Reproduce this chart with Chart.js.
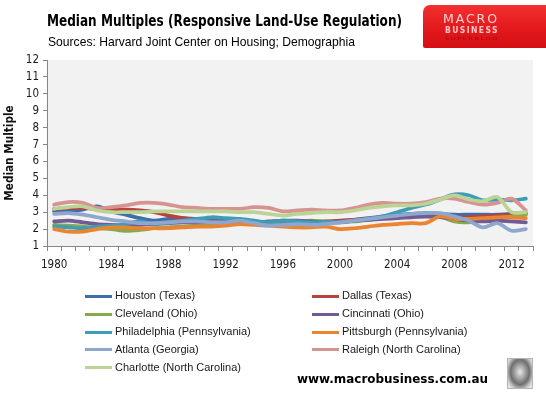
<!DOCTYPE html>
<html><head><meta charset="utf-8">
<script src="https://cdn.jsdelivr.net/npm/chart.js@4.4.1/dist/chart.umd.min.js"></script>
<style>
html,body{margin:0;padding:0;background:#fff;}
#wrap{position:relative;width:546px;height:395px;overflow:hidden;background:#fff;}
canvas{position:absolute;left:0;top:0;}
.t{position:absolute;white-space:nowrap;transform-origin:0 50%;line-height:1;}
#title{left:47px;top:11px;font:bold 16px 'DejaVu Sans Condensed','DejaVu Sans',sans-serif;color:#000;}
#sub{left:48px;top:34px;font:13.5px 'Liberation Sans',Arial,sans-serif;color:#000;}
#foot{left:297px;top:371px;font:bold 13px 'DejaVu Sans Condensed','DejaVu Sans',sans-serif;color:#000;}
#logo{position:absolute;left:423px;top:5px;width:123px;height:43px;border-top-left-radius:7px;border-bottom-left-radius:2px;
 background:linear-gradient(180deg,#f2312f 0%,#e3191c 55%,#d50f13 100%);}
.lg{position:absolute;white-space:nowrap;transform-origin:0 50%;line-height:1;}
#l1{left:443px;top:11px;font:13px 'DejaVu Sans',sans-serif;color:#f9d3d3;letter-spacing:2px;}
#l2{left:445px;top:26px;font:bold 8px 'DejaVu Sans',sans-serif;color:#f7c7c7;letter-spacing:1.5px;}
#l3{left:445px;top:36px;font:4.5px 'DejaVu Sans',sans-serif;color:#a7080c;letter-spacing:1px;}
#wolf{position:absolute;left:507px;top:358px;width:24px;height:29px;border:1px solid #b5b5b5;
 background:radial-gradient(ellipse at 50% 45%,#e8e8e8 0%,#9a9a9a 35%,#6e6e6e 55%,#cfcfcf 80%,#f2f2f2 100%);}
.leg{position:absolute;height:3px;width:27px;}
.legt{position:absolute;white-space:nowrap;font:11px 'Liberation Sans',Arial,sans-serif;color:#1a1a1a;line-height:1;}
</style></head><body>
<div id="wrap">
<canvas id="c" width="546" height="395"></canvas>
<div id="title" class="t">Median Multiples (Responsive Land-Use Regulation)</div>
<div id="sub" class="t">Sources: Harvard Joint Center on Housing; Demographia</div>
<div id="logo"></div>
<div id="l1" class="lg">MACRO</div>
<div id="l2" class="lg">BUSINESS</div>
<div id="l3" class="lg">SUPERBLOG</div>
<div id="foot" class="t">www.macrobusiness.com.au</div>
<div id="wolf"></div>
</div>
<script>
const years = ['1980','1981','1982','1983','1984','1985','1986','1987','1988','1989','1990','1991','1992','1993','1994','1995','1996','1997','1998','1999','2000','2001','2002','2003','2004','2005','2006','2007','2008','2009','2010','2011','2012','2013'];

const houston      = [3.05,3.10,3.15,3.35,3.05,2.85,2.65,2.50,2.60,2.65,2.60,2.60,2.55,2.50,2.40,2.35,2.40,2.45,2.40,2.40,2.45,2.55,2.65,2.75,2.85,2.90,2.95,2.90,2.85,2.85,2.85,2.85,2.90,2.95];
const dallas       = [3.20,3.25,3.25,3.20,3.15,3.15,3.10,3.00,2.80,2.65,2.55,2.50,2.45,2.45,2.40,2.35,2.35,2.40,2.40,2.45,2.50,2.55,2.60,2.65,2.70,2.75,2.75,2.75,2.70,2.70,2.75,2.80,2.85,2.95];
const cleveland    = [2.25,2.20,2.15,2.05,2.00,1.90,1.95,2.05,2.10,2.15,2.20,2.25,2.30,2.30,2.35,2.40,2.45,2.45,2.50,2.45,2.40,2.45,2.55,2.65,2.75,2.85,2.90,2.75,2.45,2.40,2.55,2.65,2.75,2.85];
const cincinnati   = [2.45,2.50,2.40,2.30,2.25,2.20,2.25,2.30,2.35,2.40,2.40,2.45,2.50,2.45,2.40,2.45,2.50,2.50,2.45,2.40,2.45,2.50,2.55,2.60,2.65,2.70,2.75,2.70,2.60,2.50,2.45,2.50,2.45,2.40];
const philadelphia = [2.15,2.10,2.05,2.15,2.20,2.30,2.45,2.30,2.40,2.50,2.60,2.70,2.65,2.60,2.50,2.40,2.50,2.45,2.40,2.40,2.40,2.50,2.60,2.75,3.00,3.25,3.45,3.75,4.05,4.00,3.70,3.75,3.70,3.80];
const pittsburgh   = [2.00,1.85,1.85,2.00,2.10,2.10,2.05,2.05,2.05,2.10,2.15,2.15,2.20,2.30,2.25,2.20,2.15,2.10,2.10,2.15,2.00,2.05,2.15,2.25,2.30,2.35,2.35,2.75,2.60,2.60,2.65,2.70,2.70,2.65];
const atlanta      = [2.90,2.95,2.85,2.70,2.55,2.45,2.35,2.35,2.40,2.45,2.45,2.40,2.40,2.50,2.35,2.20,2.25,2.30,2.25,2.30,2.40,2.50,2.60,2.70,2.80,2.90,2.95,2.95,2.75,2.50,2.10,2.35,1.90,2.00];
const raleigh      = [3.45,3.60,3.55,3.25,3.30,3.40,3.55,3.55,3.45,3.30,3.25,3.20,3.20,3.20,3.30,3.25,3.05,3.10,3.15,3.10,3.10,3.25,3.45,3.55,3.50,3.50,3.60,3.80,3.80,3.60,3.45,3.55,3.80,3.10];
const charlotte    = [3.20,3.30,3.35,3.10,3.00,3.00,3.00,3.05,3.05,3.05,3.05,3.05,3.05,3.00,3.00,2.90,2.80,2.90,2.95,3.00,3.00,3.10,3.25,3.35,3.40,3.40,3.50,3.75,4.00,3.75,3.65,3.90,3.00,3.00];

const seriesNames  = ['Houston (Texas)','Dallas (Texas)','Cleveland (Ohio)','Cincinnati (Ohio)','Philadelphia (Pennsylvania)','Pittsburgh (Pennsylvania)','Atlanta (Georgia)','Raleigh (North Carolina)','Charlotte (North Carolina)'];
const seriesData   = [houston,dallas,cleveland,cincinnati,philadelphia,pittsburgh,atlanta,raleigh,charlotte];
const seriesColors = ['#3F6FAA','#B7423E','#86AA4B','#705B95','#3C9DB6','#EA8431','#8FA6CF','#D69491','#BCD396'];
const yTickMin = 1, yTickMax = 12;

const bgPlugin = {
  id:'plotbg',
  beforeDraw(chart){
    const a = chart.chartArea, c = chart.ctx;
    c.save(); c.fillStyle = '#F2F2F2'; c.fillRect(a.left, a.top, a.right-a.left, a.bottom-a.top); c.restore();
  }
};

const tickFont = {family:"'DejaVu Sans Condensed','DejaVu Sans',sans-serif", size:11.5};

new Chart(document.getElementById('c').getContext('2d'), {
  type:'line',
  data:{
    labels: years,
    datasets: seriesNames.map((n,i)=>({
      label:n, data:seriesData[i], borderColor:seriesColors[i], backgroundColor:seriesColors[i],
      borderWidth:3.75, pointRadius:0, tension:0.3, fill:false, order:seriesNames.length-i,
      borderCapStyle:'round', borderJoinStyle:'round'
    }))
  },
  options:{
    responsive:false, animation:false, devicePixelRatio:1,
    layout:{padding:{left:0, top:60, right:13, bottom:0}},
    plugins:{legend:{display:false}, tooltip:{enabled:false}, title:{display:false}},
    scales:{
      x:{
        offset:true,
        grid:{offset:true, drawOnChartArea:false, drawTicks:true, tickLength:5, color:'#868686'},
        border:{color:'#868686'},
        ticks:{autoSkip:false, maxRotation:0, minRotation:0, padding:7, color:'#1a1a1a', font:tickFont,
          callback:function(v,i){ return i%4===0 ? years[i] : ''; }},
        afterFit:function(s){ s.height = 149; }
      },
      y:{
        min:yTickMin, max:yTickMax,
        ticks:{stepSize:1, padding:4, color:'#1a1a1a', font:tickFont},
        grid:{drawOnChartArea:false, drawTicks:true, tickLength:4, color:'#868686'},
        border:{color:'#868686'},
        title:{display:true, text:'Median Multiple', color:'#111',
          font:{family:"'DejaVu Sans Condensed','DejaVu Sans',sans-serif", size:11.7, weight:'bold'},
          padding:{top:3, bottom:0}},
        afterFit:function(s){ s.width = 47; }
      }
    }
  },
  plugins:[bgPlugin]
});

// legend built from series arrays
const wrap = document.getElementById('wrap');
const rowY = [296,314,332,349.5,367.5];
seriesNames.forEach((n,i)=>{
  const col = i%2, row = Math.floor(i/2);
  const lx = col===0 ? 85 : 312, tx = col===0 ? 115 : 342;
  const ln = document.createElement('div'); ln.className='leg';
  ln.style.left = lx+'px'; ln.style.top = (rowY[row]-1.5)+'px'; ln.style.background = seriesColors[i];
  wrap.appendChild(ln);
  const t = document.createElement('div'); t.className='legt'; t.textContent = n;
  t.style.left = tx+'px'; t.style.top = (rowY[row]-6)+'px';
  wrap.appendChild(t);
});

function fit(id, w){
  const el = document.getElementById(id);
  const r = el.getBoundingClientRect().width;
  if (r>0) el.style.transform = 'scaleX('+(w/r)+')';
}
fit('title',355); fit('sub',307); fit('foot',191);
fit('l1',56); fit('l2',54); fit('l3',54);
</script>
</body></html>
